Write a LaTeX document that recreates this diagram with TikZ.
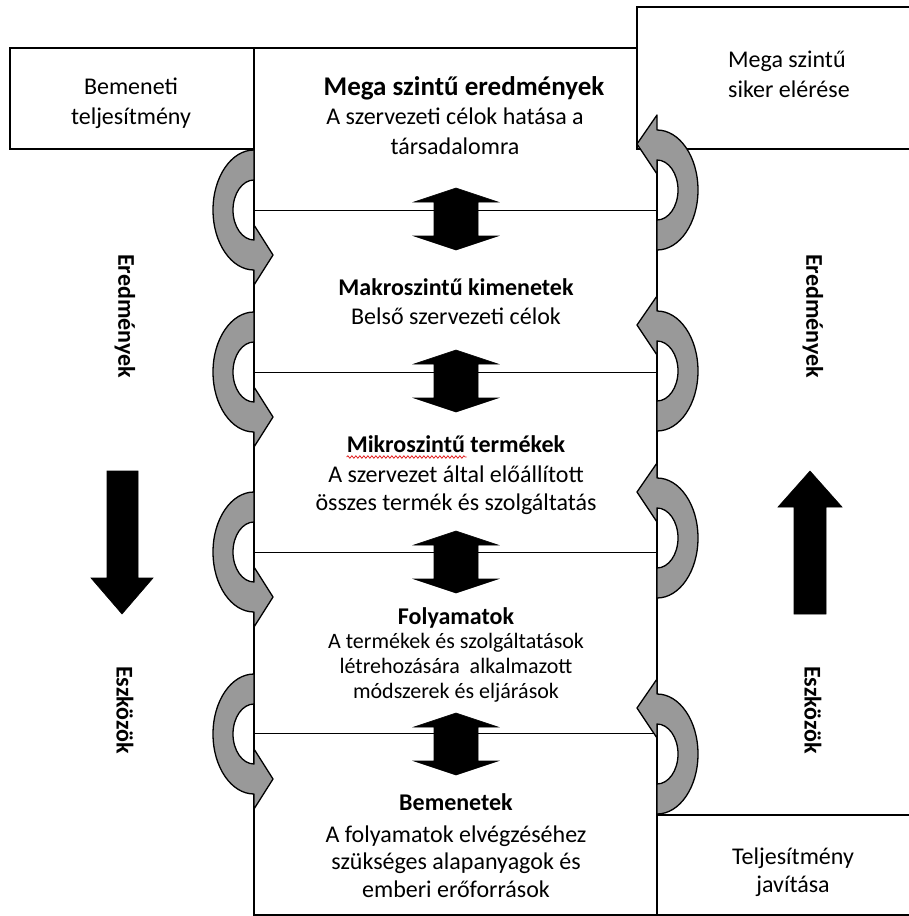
\documentclass[tikz,border=0pt]{standalone}
\usepackage{fontspec}
\setmainfont{Carlito}
\usetikzlibrary{decorations.pathmorphing}
\definecolor{curlgray}{RGB}{153,153,153}
\definecolor{squigglered}{RGB}{225,35,35}
\tikzset{
  boxframe/.style={draw=black,line width=1.3pt,fill=white},
  divider/.style={draw=black,line width=1pt},
  curlshape/.style={draw=black,line width=1.3pt,fill=curlgray,line join=round},
  solidarrow/.style={fill=black,draw=black,line width=0.6pt,line join=miter},
  txt/.style={font=\fontsize{24}{29}\selectfont,inner sep=0pt,anchor=base},
  headtxt/.style={txt,font=\fontsize{24}{29}\selectfont\bfseries},
  bigheadtxt/.style={txt,font=\fontsize{27}{32}\selectfont\bfseries},
  smalltxt/.style={txt,font=\fontsize{22}{25}\selectfont},
  sidelabel/.style={font=\fontsize{24}{29}\selectfont\bfseries,inner sep=0pt,rotate=-90},
  leftcurl/.pic={\path[curlshape] (0,-60) arc[start angle=270,end angle=90,x radius=41,y radius=60] -- (0,75) -- (19,45) -- (0,15) -- (0,30) arc[start angle=90,end angle=270,x radius=21,y radius=30] -- cycle;},
  rightcurl/.pic={\path[curlshape] (0,60) arc[start angle=90,end angle=-90,x radius=41,y radius=60] -- (0,-75) -- (-20,-46) -- (0,-16) -- (0,-30) arc[start angle=-90,end angle=90,x radius=21,y radius=30] -- cycle;},
  updown/.pic={\path[solidarrow] (0,-31) -- (42,-17) -- (22,-17) -- (22,17) -- (42,17) -- (0,31) -- (-42,17) -- (-22,17) -- (-22,-17) -- (-42,-17) -- cycle;}
}
\begin{document}
\begin{tikzpicture}[x=1pt,y=-1pt]
\useasboundingbox (0,0) rectangle (909,916);
% frames
\path[boxframe] (254,48) rectangle (657,915);
\path[boxframe] (10,48) rectangle (254,149);
\foreach \yy in {210,372,552,733} \draw[divider] (254,\yy) -- (657,\yy);
\path[boxframe] (637,7) rectangle (915,149);
\path[boxframe] (657,815) rectangle (915,915);
% curved arrows
\foreach \cy in {210,372,552,734} \pic at (254,\cy) {leftcurl};
\foreach \cy in {190,371,538,754} \pic at (657,\cy) {rightcurl};
% up-down arrows
\foreach \cy in {219,381,562,744} \pic at (456,\cy) {updown};
% big arrows
\path[solidarrow] (107,471) -- (138,471) -- (138,578) -- (153,578) -- (122,614) -- (91,578) -- (107,578) -- cycle;
\path[solidarrow] (810,471) -- (842,507) -- (826,507) -- (826,614) -- (794,614) -- (794,507) -- (778,507) -- cycle;
% side texts
\node[txt] (bt1) at (131,94) {Bemeneti};
\node[txt] (bt2) at (131,124) {teljesítmény};
\node[txt,anchor=base west] (ms1) at (728,67) {Mega szintű};
\node[txt,anchor=base west] (ms2) at (728,97) {siker elérése};
\node[txt] (tj1) at (793,864) {Teljesítmény};
\node[txt] (tj2) at (793,892) {javítása};
\node[sidelabel] (erL) at (125,316) {Eredmények};
\node[sidelabel] (esL) at (125,710) {Eszközök};
\node[sidelabel] (erR) at (813,316) {Eredmények};
\node[sidelabel] (esR) at (813,710) {Eszközök};
% center texts
\node[bigheadtxt] (mega1) at (464,95) {Mega szintű eredmények};
\node[txt] (mega2) at (455,124) {A szervezeti célok hatása a};
\node[txt] (mega3) at (455,154) {társadalomra};
\node[headtxt] (makro1) at (456,295) {Makroszintű kimenetek};
\node[txt] (makro2) at (456,324) {Belső szervezeti célok};
\node[headtxt] (mikro1) at (456,452) {Mikroszintű termékek};
\node[txt] (mikro2) at (456,482) {A szervezet által előállított};
\node[txt] (mikro3) at (456,510) {összes termék és szolgáltatás};
\node[headtxt] (foly1) at (456,624) {Folyamatok};
\node[smalltxt] (foly2) at (456,648) {A termékek és szolgáltatások};
\node[smalltxt] (foly3) at (456,673) {létrehozására\ \ alkalmazott};
\node[smalltxt] (foly4) at (456,698) {módszerek és eljárások};
\node[headtxt] (bem1) at (456,810) {Bemenetek};
\node[txt] (bem2) at (456,842) {A folyamatok elvégzéséhez};
\node[txt] (bem3) at (456,869) {szükséges alapanyagok és};
\node[txt] (bem4) at (456,897) {emberi erőforrások};
% spell-check squiggle
\draw[squigglered,line width=0.8pt,decorate,decoration={snake,amplitude=1.2pt,segment length=4pt}] (mikro1.base west) ++(0,5) coordinate (sq1) -- ++(120,0) coordinate (sq2);
\end{tikzpicture}
\end{document}
